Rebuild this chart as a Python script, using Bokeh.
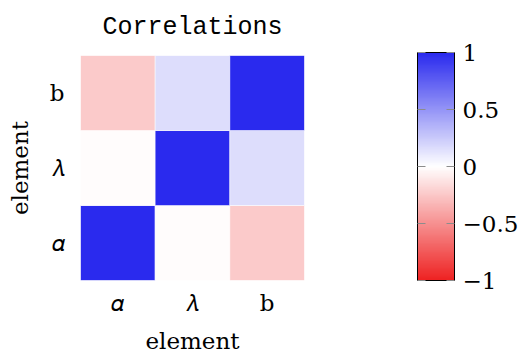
import numpy as np
from bokeh.plotting import figure
from bokeh.models import (ColumnDataSource, LinearColorMapper, ColorBar,
                          FixedTicker, FactorRange)
from bokeh.embed import file_html
from bokeh.resources import INLINE

# element names (x and y share them)
elements = ["𝛼", "𝜆", "b"]

# correlation matrix, row = y element, column = x element
corr = [
    [1.00, -0.015, -0.24],   # y = alpha
    [-0.015, 1.00, 0.16],    # y = lambda
    [-0.24, 0.16, 1.00],     # y = b
]

# colour bar ticks and their labels
cbar_ticks = [-1, -0.5, 0, 0.5, 1]
cbar_labels = ["\u22121", "\u22120.5", "0", "0.5", "1"]

# long-form table for the rect glyphs
xs, ys, vals = [], [], []
for i, yname in enumerate(elements):
    for j, xname in enumerate(elements):
        xs.append(xname)
        ys.append(yname)
        vals.append(corr[i][j])
source = ColumnDataSource(dict(x=xs, y=ys, v=vals))

# diverging red - white - blue palette
red = np.array([238, 34, 34])
white = np.array([255, 255, 255])
blue = np.array([42, 42, 238])
palette = []
n = 256
for k in range(n):
    t = k / (n - 1) * 2 - 1
    if t < 0:
        c = white + (-t) * (red - white)
    else:
        c = white + t * (blue - white)
    palette.append("#%02x%02x%02x" % tuple(int(round(v)) for v in c))
mapper = LinearColorMapper(palette=palette, low=-1, high=1)

serif = "DejaVu Serif"
fsize = "23px"

p = figure(width=529, height=356,
           x_range=FactorRange(*elements), y_range=FactorRange(*elements),
           output_backend="svg", toolbar_location=None,
           min_border_left=80, min_border_top=55, min_border_bottom=74,
           min_border_right=225)

p.rect(x="x", y="y", width=1, height=1, source=source,
       fill_color={"field": "v", "transform": mapper},
       line_color="white", line_alpha=0.5, line_width=1)

p.title.text = "Correlations"
p.title.align = "center"
p.title.vertical_align = "top"
p.title.text_font = "Liberation Mono"
p.title.text_font_size = "25px"
p.title.text_font_style = "normal"
p.title.text_color = "black"
p.title.standoff = 24

for ax in (p.xaxis[0], p.yaxis[0]):
    ax.axis_label = "element"
    ax.axis_label_text_font = serif
    ax.axis_label_text_font_size = fsize
    ax.axis_label_text_font_style = "normal"
    ax.axis_label_text_color = "black"
    ax.major_label_text_font = serif
    ax.major_label_text_font_size = fsize
    ax.major_label_text_color = "black"
    ax.axis_line_color = None
    ax.major_tick_line_color = None
    ax.minor_tick_line_color = None
p.xaxis.major_label_standoff = 3
p.xaxis.axis_label_standoff = 9
p.yaxis.major_label_standoff = 10
p.yaxis.axis_label_standoff = 14

p.xgrid.grid_line_color = None
p.ygrid.grid_line_color = None
p.outline_line_color = None

color_bar = ColorBar(color_mapper=mapper, width=37, height=228,
                     padding=0, margin=0, location=(113, 0),
                     ticker=FixedTicker(ticks=cbar_ticks),
                     major_label_overrides=dict(zip(cbar_ticks, cbar_labels)),
                     major_label_text_font=serif,
                     major_label_text_font_size=fsize,
                     major_label_text_color="black",
                     label_standoff=8,
                     major_tick_in=37, major_tick_out=0,
                     major_tick_line_color="#8c8c8c",
                     major_tick_line_dash="8 21",
                     minor_tick_line_color=None,
                     bar_line_color="black", bar_line_width=1,
                     background_fill_color=None, border_line_color=None)
p.add_layout(color_bar, "right")

open("out.html", "w").write(file_html(p, INLINE))
